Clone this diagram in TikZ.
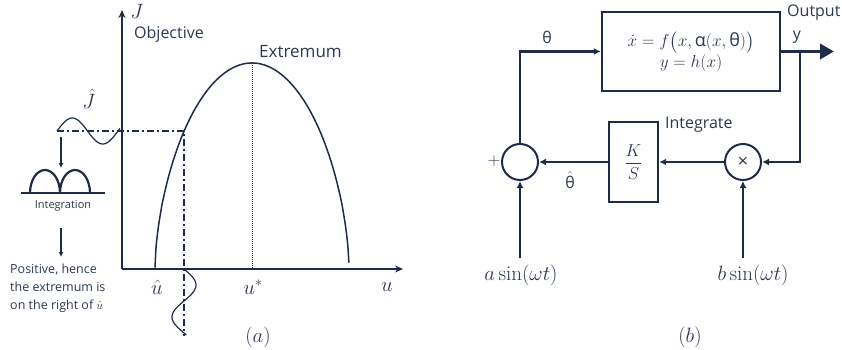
\documentclass[tikz,border=0pt]{standalone}
\usepackage{amsmath,amssymb}
\usepackage{fontspec}
\setsansfont{Open Sans}
\usepackage{xcolor}
\usepackage{tikz}
\usetikzlibrary{arrows.meta,positioning,calc}
\definecolor{navyline}{RGB}{30,44,74}
\definecolor{navytext}{RGB}{44,56,82}
\newcommand{\sth}{\textsf{θ}}
\newcommand{\sal}{\textsf{α}}

\begin{document}
\begin{tikzpicture}[x=1pt,y=1pt,
    line/.style={navyline, line width=2.2pt},
    blk/.style={draw=navyline, line width=2.4pt, rectangle, inner sep=0pt},
    junc/.style={draw=navyline, line width=2pt, circle, minimum size=36pt, inner sep=0pt},
    lbl/.style={font=\fontsize{16}{19}\sffamily, text=navytext, inner sep=0pt},
    mlbl/.style={font=\fontsize{21}{24}\selectfont, text=navytext, inner sep=0pt},
    tip/.style={-{Latex[length=7pt,width=7pt]}}]
\useasboundingbox (0,0) rectangle (842,349);

% (a) Axes
\coordinate (O) at (122,80);
\coordinate (ytop) at (122,339);
\coordinate (xend) at (403,80);
\draw[line, -{Stealth[length=8pt,width=7pt]}] (O) -- (ytop);
\draw[line, -{Stealth[length=8pt,width=7pt]}] (O) -- (xend);
\node[mlbl] (Jlab) at (137,338) {$J$};
\node[lbl, anchor=west] (objlab) at (134,315) {Objective};
\node[lbl, font=\fontsize{17}{20}\sffamily, anchor=west] (extlab) at (259,297) {Extremum};
% Objective curve
\draw[navyline, line width=1.5pt] plot[domain=-1:1, samples=201, smooth]
    ({252+97*\x},{81+205*pow(max(1-\x*\x,0.00001),0.6)});
\coordinate (peak) at (252,286);
\coordinate (ustarft) at (252,81);
\draw[navyline, densely dotted, line width=1pt] (peak) -- (ustarft);
% Operating point
\coordinate (jstart) at (57,218);
\coordinate (oppt) at (184,218);
\coordinate (opbot) at (184,13);
\draw[navyline, line width=1.3pt, dash pattern=on 7pt off 3pt on 2pt off 3pt] (jstart) -- (oppt) -- (opbot);
% Dither waves
\draw[navyline, line width=1.2pt] plot[domain=0:63, samples=60, smooth] ({57+\x},{218+13*sin(\x/61*360)});
\draw[navyline, line width=1.2pt] plot[domain=0:66, samples=60, smooth] ({184+12*sin(\x/64*360)},{80-\x});
\node[mlbl] (Jhat) at (89,250) {$\hat{J}$};
% Integration
\coordinate (arr1a) at (61,212);
\coordinate (arr1b) at (61,181);
\draw[navyline, line width=1.3pt, -{Latex[length=5pt,width=5pt]}] (arr1a) -- (arr1b);
\coordinate (hbl) at (21,156);
\coordinate (hbr) at (105,156);
\draw[navyline, line width=1.5pt] (hbl) -- (hbr);
\draw[navyline, line width=2.2pt] (30,156) arc[start angle=180, end angle=0, x radius=15, y radius=23]
    arc[start angle=180, end angle=0, x radius=15, y radius=23];
\node[lbl, font=\fontsize{11}{13}\sffamily] (intlab) at (63,143) {Integration};
\coordinate (arr2a) at (61,121);
\coordinate (arr2b) at (61,92);
\draw[navyline, line width=1.3pt, -{Latex[length=5pt,width=5pt]}] (arr2a) -- (arr2b);
\node[lbl, font=\fontsize{12.5}{18}\sffamily, anchor=north west, align=left] (poslab) at (10,85)
    {Positive, hence\\the extremum is\\on the right of $\hat{u}$};
\node[mlbl] (uhat) at (157,62) {$\hat{u}$};
\node[mlbl] (ustar) at (253,62) {$u^{*}$};
\node[mlbl] (ulab) at (387,62) {$u$};
\node[mlbl] (alab) at (258,12) {$(a)$};

% (b) Loop
\node[blk, minimum width=178pt, minimum height=79pt, align=center, text=navytext,
    font=\fontsize{18}{21}\selectfont] (plant) at (691,297.5)
    {$\dot{x} = f\big(x, \sal(x, \sth)\big)$\\ $y = h(x)$};
\node[junc] (mult) at (743,187) {\fontsize{18}{18}\sffamily\color{navytext}×};
\node[blk, minimum width=49pt, minimum height=80pt, text=navytext,
    font=\fontsize{19}{22}\selectfont] (integ) at (633.5,187) {$\dfrac{K}{S}$};
\node[junc] (sum) at (520,187) {};
\coordinate (outend) at (834,297.5);
\coordinate (tap) at (800,297.5);
\draw[line, line width=3.5pt, -{Triangle[length=14pt,width=15pt]}] (plant.east) -- (outend);
\draw[line, tip] (tap) |- (mult.east);
\draw[line, tip] (mult.west) -- (integ.east);
\draw[line, tip] (integ.west) -- (sum.east);
\draw[line, tip] (sum.north) |- (plant.west);
\coordinate (ain0) at (520,91);
\coordinate (bin0) at (743,91);
\draw[line, tip] (ain0) -- (sum.south);
\draw[line, tip] (bin0) -- (mult.south);
% Labels
\node[lbl] (thlab) at (547,312) {θ};
\node[lbl] (thhat) at (570,169) {$\hat{\text{\sth}}$};
\node[mlbl, font=\fontsize{18}{18}\selectfont] (plus) at (494,188) {$+$};
\node[lbl, anchor=west] (intg) at (665,224) {Integrate};
\node[lbl, anchor=west] (outlab) at (787,336) {Output};
\node[lbl] (ylab) at (797,312) {y};
\node[mlbl] (ain) at (521,74) {$a\sin(\omega t)$};
\node[mlbl] (bin) at (753,74) {$b\sin(\omega t)$};
\node[mlbl] (blab) at (690,12) {$(b)$};
\end{tikzpicture}
\end{document}
